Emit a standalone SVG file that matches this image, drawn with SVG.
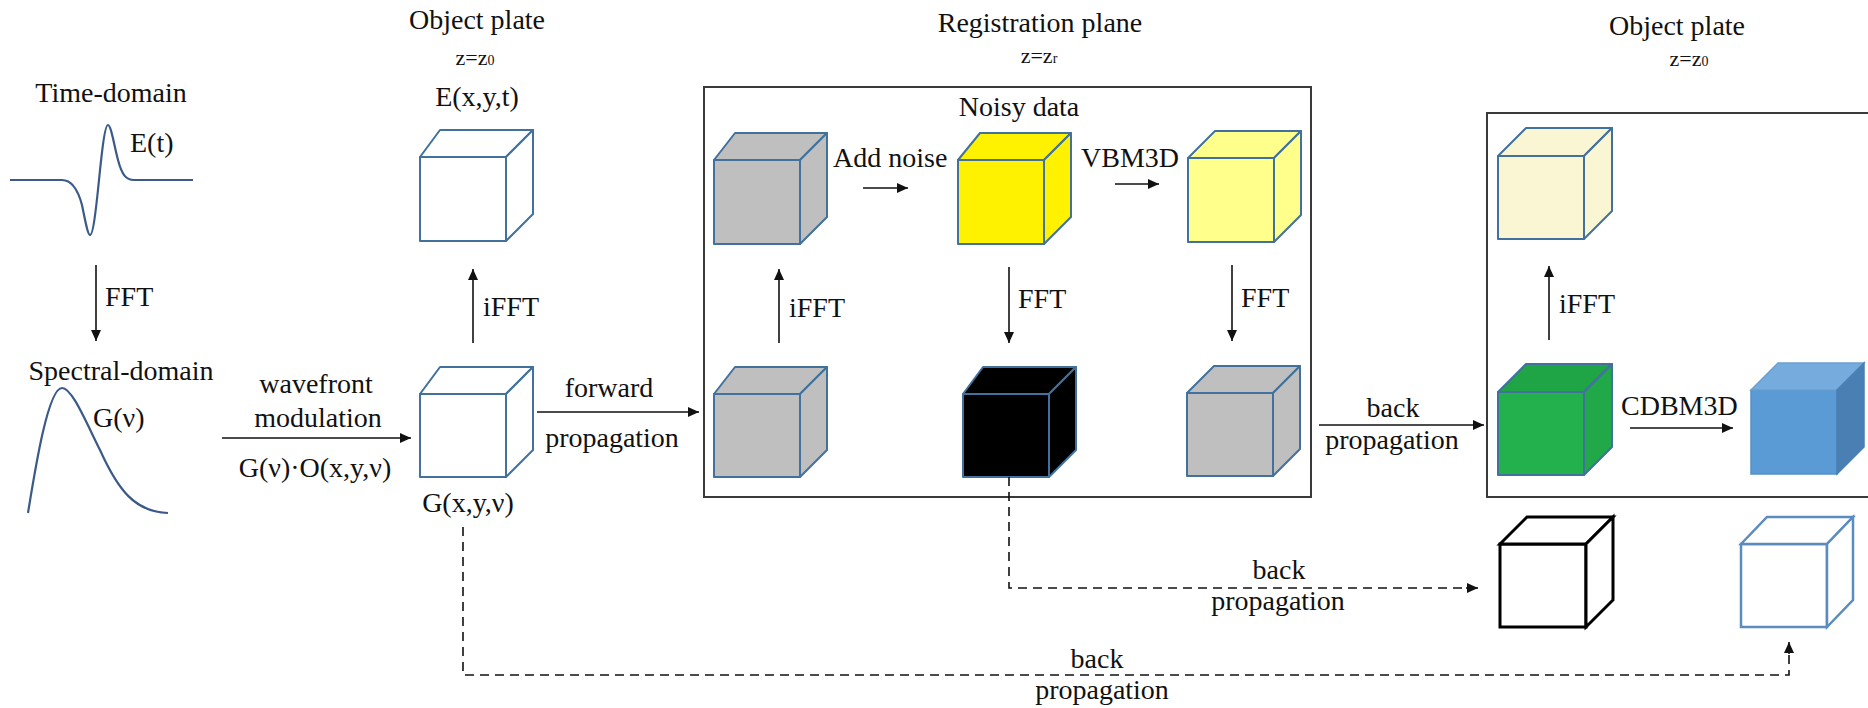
<svg xmlns="http://www.w3.org/2000/svg" width="1868" height="708" viewBox="0 0 1868 708">
  <defs>
    <style>
      text { font-family: "Liberation Serif", "Times New Roman", serif; font-size: 28px; fill: #111; }
      .small { font-size: 22px; }
      .sub { font-size: 14px; }
      .mid { text-anchor: middle; }
      .edge { stroke: #41719c; stroke-width: 2; stroke-linejoin: round; }
      .frame { fill: none; stroke: #3a3a3a; stroke-width: 2; }
      .wave { fill: none; stroke: #3b5a8a; stroke-width: 2.2; }
      .arrow { fill: none; stroke: #111; stroke-width: 1.6; marker-end: url(#head); }
      .dash { fill: none; stroke: #111; stroke-width: 1.6; stroke-dasharray: 9 6; }
    </style>
    <marker id="head" markerUnits="userSpaceOnUse" markerWidth="12" markerHeight="10" refX="11" refY="5" orient="auto">
      <path d="M0,0 L11,5 L0,10 z" fill="#111"/>
    </marker>
  </defs>
  <rect width="1868" height="708" fill="#fff"/>

  <!-- headings -->
  <g id="headings">
    <text x="477" y="29" class="mid">Object plate</text>
    <text x="475" y="65" class="mid small">z=z<tspan class="sub">0</tspan></text>
    <text x="1040" y="32" class="mid">Registration plane</text>
    <text x="1039" y="63" class="mid small">z=z<tspan class="sub">r</tspan></text>
    <text x="1677" y="35" class="mid">Object plate</text>
    <text x="1689" y="66" class="mid small">z=z<tspan class="sub">0</tspan></text>
  </g>

  <!-- pulse in time and spectrum -->
  <g id="time-domain">
    <text x="111" y="102" class="mid">Time-domain</text>
    <text x="130" y="152">E(t)</text>
    <path class="wave" d="M10,180 L62,180 C72,180 78,190 82,205 C86,225 88,235 90,235 C93,235 96,210 99,180 C102,150 105,125 108,125 C111,125 114,145 118,160 C122,175 126,180 134,180 L193,180"/>
  </g>
  <g id="spectral-domain">
    <text x="121" y="380" class="mid">Spectral-domain</text>
    <text x="93" y="427">G(ν)</text>
    <path class="wave" d="M28,513 C35,470 48,388 62,388 C72,388 85,420 100,450 C118,490 135,512 168,513"/>
  </g>

  <!-- plane frames -->
  <g id="registration-plane">
    <rect class="frame" x="704" y="87" width="607" height="410"/>
    <text x="1019" y="116" class="mid">Noisy data</text>
  </g>
  <g id="object-plane">
    <rect class="frame" x="1487" y="113" width="420" height="384"/>
  </g>

  <!-- volumes -->
  <g id="cube-e" transform="translate(420,157)">
    <rect class="edge" width="86" height="84" fill="#fff"/>
    <polygon class="edge" points="0,0 20,-27 113,-27 86,0" fill="#fff"/>
    <polygon class="edge" points="86,0 113,-27 113,57 86,84" fill="#fff"/>
  </g>
  <g id="cube-g" transform="translate(420,394)">
    <rect class="edge" width="86" height="83" fill="#fff"/>
    <polygon class="edge" points="0,0 20,-27 113,-27 86,0" fill="#fff"/>
    <polygon class="edge" points="86,0 113,-27 113,56 86,83" fill="#fff"/>
  </g>
  <g id="cube-field-reg" transform="translate(714,160)">
    <rect class="edge" width="86" height="84" fill="#bfbfbf"/>
    <polygon class="edge" points="0,0 21,-27 113,-27 86,0" fill="#bfbfbf"/>
    <polygon class="edge" points="86,0 113,-27 113,57 86,84" fill="#bfbfbf"/>
  </g>
  <g id="cube-noisy" transform="translate(958,160)">
    <rect class="edge" width="86" height="84" fill="#fff200"/>
    <polygon class="edge" points="0,0 22,-27 113,-27 86,0" fill="#fff200"/>
    <polygon class="edge" points="86,0 113,-27 113,57 86,84" fill="#fff200"/>
  </g>
  <g id="cube-vbm3d" transform="translate(1188,158)">
    <rect class="edge" width="86" height="84" fill="#ffff8c"/>
    <polygon class="edge" points="0,0 27,-27 113,-27 86,0" fill="#ffff8c"/>
    <polygon class="edge" points="86,0 113,-27 113,57 86,84" fill="#ffff8c"/>
  </g>
  <g id="cube-spectrum-reg" transform="translate(714,394)">
    <rect class="edge" width="86" height="83" fill="#bfbfbf"/>
    <polygon class="edge" points="0,0 21,-27 113,-27 86,0" fill="#bfbfbf"/>
    <polygon class="edge" points="86,0 113,-27 113,56 86,83" fill="#bfbfbf"/>
  </g>
  <g id="cube-noise-spectrum" transform="translate(963,394)">
    <rect class="edge" width="86" height="83" fill="#000"/>
    <polygon class="edge" points="0,0 20,-27 113,-27 86,0" fill="#000"/>
    <polygon class="edge" points="86,0 113,-27 113,56 86,83" fill="#000"/>
  </g>
  <g id="cube-denoised-spectrum" transform="translate(1187,393)">
    <rect class="edge" width="86" height="83" fill="#bfbfbf"/>
    <polygon class="edge" points="0,0 27,-27 113,-27 86,0" fill="#bfbfbf"/>
    <polygon class="edge" points="86,0 113,-27 113,56 86,83" fill="#bfbfbf"/>
  </g>
  <g id="cube-object-time" transform="translate(1498,156)">
    <rect class="edge" width="86" height="83" fill="#faf5d3"/>
    <polygon class="edge" points="0,0 28,-28 114,-28 86,0" fill="#faf5d3"/>
    <polygon class="edge" points="86,0 114,-28 114,55 86,83" fill="#faf5d3"/>
  </g>
  <g id="cube-object-spectrum" transform="translate(1498,392)">
    <rect class="edge" width="86" height="83" fill="#22b14c"/>
    <polygon class="edge" points="0,0 28,-28 114,-28 86,0" fill="#1fa446"/>
    <polygon class="edge" points="86,0 114,-28 114,55 86,83" fill="#20a849"/>
  </g>
  <g id="cube-cdbm3d" transform="translate(1751,390)">
    <rect width="86" height="84" fill="#5b9bd5" stroke="#5590c8" stroke-width="1.5"/>
    <polygon points="0,0 27,-27 113,-27 86,0" fill="#76abde" stroke="#6ba0d2" stroke-width="1.5"/>
    <polygon points="86,0 113,-27 113,57 86,84" fill="#4a7fb3" stroke="#4a7fb3" stroke-width="1.5"/>
  </g>
  <g id="cube-outline-black" transform="translate(1500,544)">
    <g fill="#fff" stroke="#000" stroke-width="3" stroke-linejoin="miter">
      <rect width="86" height="83"/>
      <polygon points="0,0 27,-27 113,-27 86,0"/>
      <polygon points="86,0 113,-27 113,56 86,83"/>
    </g>
  </g>
  <g id="cube-outline-blue" transform="translate(1741,544)">
    <g fill="#fff" stroke="#5b8cc0" stroke-width="2.5" stroke-linejoin="miter">
      <rect width="86" height="83"/>
      <polygon points="0,0 26,-27 112,-27 86,0"/>
      <polygon points="86,0 112,-27 112,56 86,83"/>
    </g>
  </g>

  <!-- volume labels -->
  <g id="volume-labels">
    <text x="477" y="106" class="mid">E(x,y,t)</text>
    <text x="468" y="512" class="mid">G(x,y,ν)</text>
  </g>

  <!-- connectors -->
  <g id="connectors">
    <line class="arrow" x1="96" y1="265" x2="96" y2="341"/>
    <text x="105" y="306">FFT</text>

    <line class="arrow" x1="222" y1="438" x2="411" y2="438"/>
    <text x="316" y="393" class="mid">wavefront</text>
    <text x="318" y="427" class="mid">modulation</text>
    <text x="315" y="477" class="mid">G(ν)·O(x,y,ν)</text>

    <line class="arrow" x1="473" y1="343" x2="473" y2="269"/>
    <text x="483" y="316">iFFT</text>

    <line class="arrow" x1="537" y1="412" x2="699" y2="412"/>
    <text x="609" y="397" class="mid">forward</text>
    <text x="612" y="447" class="mid">propagation</text>

    <line class="arrow" x1="779" y1="343" x2="779" y2="269"/>
    <text x="789" y="317">iFFT</text>

    <line class="arrow" x1="863" y1="188" x2="908" y2="188"/>
    <text x="833" y="167">Add noise</text>

    <line class="arrow" x1="1115" y1="184" x2="1159" y2="184"/>
    <text x="1081" y="167">VBM3D</text>

    <line class="arrow" x1="1009" y1="267" x2="1009" y2="343"/>
    <text x="1018" y="308">FFT</text>

    <line class="arrow" x1="1232" y1="265" x2="1232" y2="341"/>
    <text x="1241" y="307">FFT</text>

    <line class="arrow" x1="1319" y1="425" x2="1484" y2="425"/>
    <text x="1393" y="417" class="mid">back</text>
    <text x="1392" y="449" class="mid">propagation</text>

    <line class="arrow" x1="1549" y1="340" x2="1549" y2="266"/>
    <text x="1559" y="313">iFFT</text>

    <line class="arrow" x1="1630" y1="428" x2="1733" y2="428"/>
    <text x="1621" y="415">CDBM3D</text>

    <polyline class="dash" points="1009,477 1009,588 1470,588"/>
    <line class="arrow" x1="1466" y1="588" x2="1478" y2="588"/>
    <text x="1279" y="579" class="mid">back</text>
    <text x="1278" y="610" class="mid">propagation</text>

    <polyline class="dash" points="463,527 463,675 1789,675 1789,650"/>
    <line class="arrow" x1="1789" y1="654" x2="1789" y2="642"/>
    <text x="1097" y="668" class="mid">back</text>
    <text x="1102" y="699" class="mid">propagation</text>
  </g>
</svg>
